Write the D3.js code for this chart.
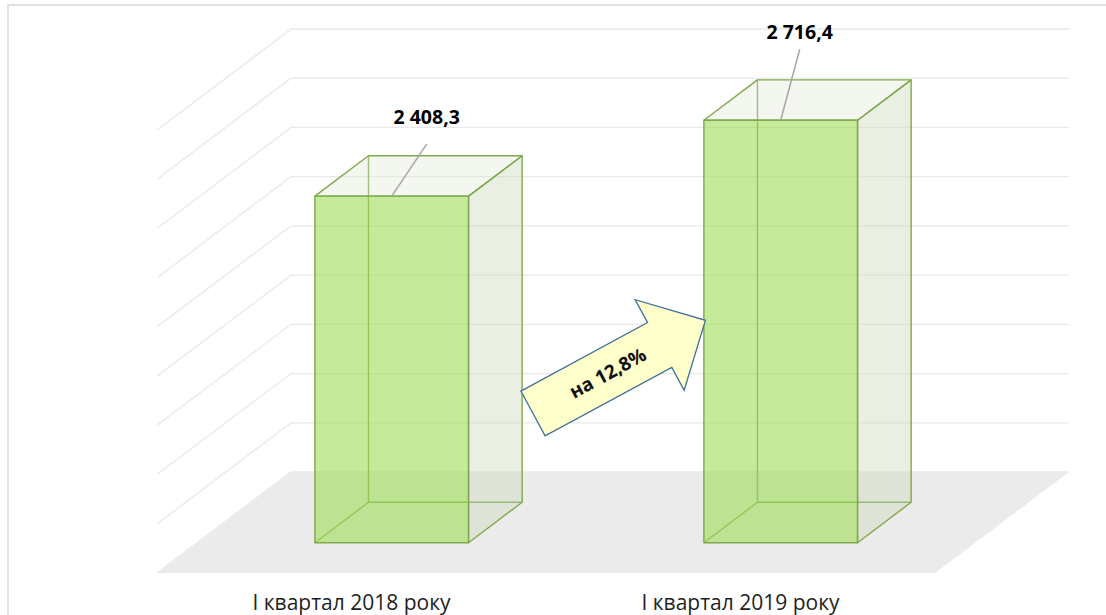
<!DOCTYPE html>
<html>
<head>
<meta charset="utf-8">
<script src="https://cdnjs.cloudflare.com/ajax/libs/d3/7.8.5/d3.min.js"></script>
<style>
  body { margin: 0; background: #fff; }
  text { font-family: "Open Sans", "Noto Sans", sans-serif; }
</style>
</head>
<body>
<script>
var categories = ["I квартал 2018 року", "I квартал 2019 року"];
var values = [2408.3, 2716.4];
var gridTicks = [1000, 1200, 1400, 1600, 1800, 2000, 2200, 2400, 2600, 2800];

var width = 1106,
height = 615;

// oblique 3d: depth 0 = front of floor, 1 = back wall
var depthX = 134,
depthY = 101,
barFront = 0.3,
barBack = 0.7;

// label nudges from the bar's front-top centre: [dx, text baseline dy, leader start dy]
var labelOffsets = [[35, -72, -52], [19, -81, -71]];

var ukLocale = d3.formatLocale({ decimal: ",", thousands: " ", grouping: [3], currency: ["", ""] });
var fmt = ukLocale.format(",.1f");

var svg = d3.select("body")
  .append("svg")
  .attr("width", width)
  .attr("height", height)

var x = d3.scaleBand().domain(categories).range([157, 935])
var y = d3.scaleLinear().domain([gridTicks[0], gridTicks[gridTicks.length - 1]]).range([573, 130])
var barWidth = x.bandwidth() * 0.395
var base = y.domain()[0]

function pt(px, v, z) {
  return [px + z * depthX, y(v) - z * depthY]
}
function poly(points) {
  return "M" + points.map(function(p) { return p.join(",") }).join("L") + "Z"
}

// chart frame (runs off the right/bottom of the picture)
svg.append("rect")
  .attr("x", 8)
  .attr("y", 5)
  .attr("width", 1300)
  .attr("height", 800)
  .attr("fill", "none")
  .attr("stroke", "#d9d9d9")
  .attr("stroke-width", 1.5)

var x0 = x.range()[0], x1 = x.range()[1]

// side wall + back wall gridlines
svg.selectAll(".grid")
  .data(gridTicks)
  .enter().append("path")
  .attr("class", "grid")
  .attr("d", function(t) {
    var a = pt(x0, t, 0), b = pt(x0, t, 1), c = pt(x1, t, 1)
    return "M" + a + "L" + b + "L" + c
  })
  .attr("fill", "none")
  .attr("stroke", "#e9e9e9")
  .attr("stroke-width", 1.3)

// floor
svg.append("path")
  .attr("d", poly([pt(x0, base, 0), pt(x0, base, 1), pt(x1, base, 1), pt(x1, base, 0)]))
  .attr("fill", "#ebebeb")

var bars = svg.selectAll(".bar")
  .data(values)
  .enter().append("g")
  .attr("class", "bar")

function bx0(d, i) { return x(categories[i]) + (x.bandwidth() - barWidth) / 2 }
function bx1(d, i) { return bx0(d, i) + barWidth }

var edgeColor = "#80a84c"

// hidden edges, seen through the glass
bars.append("path")
  .attr("d", function(d, i) {
    var l = bx0(d, i), r = bx1(d, i)
    return "M" + pt(l, d, barBack) + "L" + pt(l, base, barBack) + "L" + pt(r, base, barBack) +
      "M" + pt(l, base, barBack) + "L" + pt(l, base, barFront)
  })
  .attr("fill", "none")
  .attr("stroke", edgeColor)
  .attr("stroke-width", 1.4)

// right side
bars.append("path")
  .attr("d", function(d, i) {
    var r = bx1(d, i)
    return poly([pt(r, base, barFront), pt(r, base, barBack), pt(r, d, barBack), pt(r, d, barFront)])
  })
  .attr("fill", "#c8d6b8")
  .attr("fill-opacity", 0.4)
  .attr("stroke", edgeColor)
  .attr("stroke-width", 1.4)
  .attr("stroke-linejoin", "round")

// top
bars.append("path")
  .attr("d", function(d, i) {
    var l = bx0(d, i), r = bx1(d, i)
    return poly([pt(l, d, barFront), pt(l, d, barBack), pt(r, d, barBack), pt(r, d, barFront)])
  })
  .attr("fill", "#dde8d0")
  .attr("fill-opacity", 0.35)
  .attr("stroke", edgeColor)
  .attr("stroke-width", 1.4)
  .attr("stroke-linejoin", "round")

// front
bars.append("path")
  .attr("d", function(d, i) {
    var l = bx0(d, i), r = bx1(d, i)
    return poly([pt(l, base, barFront), pt(l, d, barFront), pt(r, d, barFront), pt(r, base, barFront)])
  })
  .attr("fill", "#9ede57")
  .attr("fill-opacity", 0.6)
  .attr("stroke", edgeColor)
  .attr("stroke-width", 1.4)
  .attr("stroke-linejoin", "round")

function topCentre(d, i) {
  return pt((bx0(d, i) + bx1(d, i)) / 2, d, barFront)
}

// leader lines
bars.append("line")
  .attr("x1", function(d, i) { return topCentre(d, i)[0] + labelOffsets[i][0] })
  .attr("y1", function(d, i) { return topCentre(d, i)[1] + labelOffsets[i][2] })
  .attr("x2", function(d, i) { return topCentre(d, i)[0] })
  .attr("y2", function(d, i) { return topCentre(d, i)[1] })
  .attr("stroke", "#a6a6a6")
  .attr("stroke-width", 1.5)

bars.append("text")
  .text(function(d) { return fmt(d) })
  .attr("x", function(d, i) { return topCentre(d, i)[0] + labelOffsets[i][0] })
  .attr("y", function(d, i) { return topCentre(d, i)[1] + labelOffsets[i][1] })
  .attr("text-anchor", "middle")
  .attr("font-size", 19.5)
  .attr("font-weight", "bold")
  .attr("fill", "#000")

// category labels (the reference crops their descenders at the bottom edge)
svg.selectAll(".cat")
  .data(categories)
  .enter().append("text")
  .attr("class", "cat")
  .text(function(d) { return d })
  .attr("x", function(d) { return x(d) + x.bandwidth() / 2 })
  .attr("y", 610)
  .attr("text-anchor", "middle")
  .attr("font-size", 21)
  .attr("fill", "#1f1f1f")

// growth arrow
var growth = (values[1] / values[0] - 1) * 100
var arrow = svg.append("g")
  .attr("transform", "translate(533 413.5) rotate(-28.4)")

arrow.append("path")
  .attr("d", "M0,-25.5L144,-25.5L144,-51.5L196,0L144,51.5L144,25.5L0,25.5Z")
  .attr("fill", "#ffffcc")
  .attr("stroke", "#41719c")
  .attr("stroke-width", 1.3)
  .attr("stroke-linejoin", "miter")

arrow.append("text")
  .text("на " + ukLocale.format(".1f")(growth) + "%")
  .attr("x", 85)
  .attr("y", 0)
  .attr("dy", "0.35em")
  .attr("text-anchor", "middle")
  .attr("font-size", 19)
  .attr("font-weight", "bold")
  .attr("fill", "#111")
</script>
</body>
</html>
